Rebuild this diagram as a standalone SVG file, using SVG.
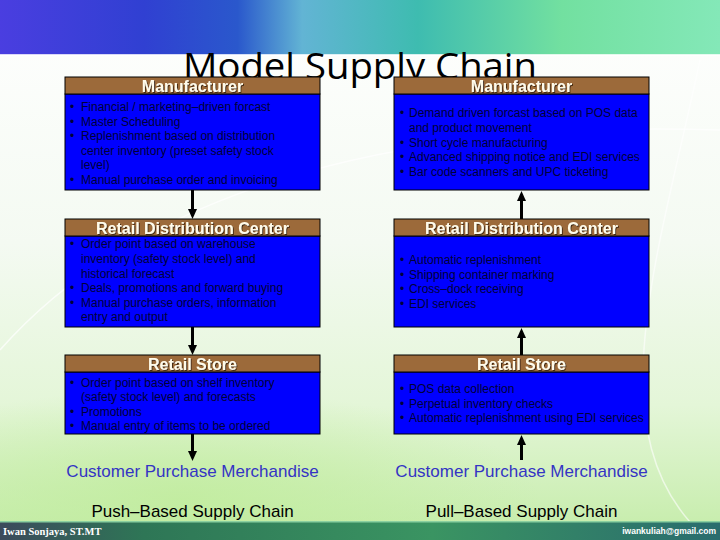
<svg xmlns="http://www.w3.org/2000/svg" width="720" height="540" viewBox="0 0 720 540">
<defs>
<linearGradient id="band" x1="0" y1="0" x2="1" y2="0">
<stop offset="0" stop-color="#4a3ee0"/>
<stop offset="0.2" stop-color="#3040d2"/>
<stop offset="0.33" stop-color="#2a58cc"/>
<stop offset="0.42" stop-color="#62b4d4"/>
<stop offset="0.58" stop-color="#3ebcb0"/>
<stop offset="0.78" stop-color="#72e0a0"/>
<stop offset="1" stop-color="#84e8b8"/>
</linearGradient>
<linearGradient id="bg" x1="0" y1="0" x2="0" y2="1">
<stop offset="0" stop-color="#ffffff"/>
<stop offset="0.45" stop-color="#f4faf2"/>
<stop offset="0.75" stop-color="#e4f6d8"/>
<stop offset="1" stop-color="#c4eca8"/>
</linearGradient>
<radialGradient id="glow" cx="0.25" cy="0.9" r="0.5">
<stop offset="0" stop-color="#c0ec9c" stop-opacity="0.8"/>
<stop offset="1" stop-color="#c0ec9c" stop-opacity="0"/>
</radialGradient>
<linearGradient id="bar" x1="0" y1="0" x2="1" y2="0">
<stop offset="0" stop-color="#3c4a5c"/>
<stop offset="0.2" stop-color="#2e7656"/>
<stop offset="0.6" stop-color="#3a9462"/>
<stop offset="1" stop-color="#2a6c6e"/>
</linearGradient>
<filter id="sh" x="-10%" y="-30%" width="120%" height="160%">
<feDropShadow dx="1" dy="1" stdDeviation="0.4" flood-color="#3a2410" flood-opacity="0.9"/>
</filter>
<marker id="ah" viewBox="0 0 10 9" markerUnits="userSpaceOnUse" markerWidth="10" markerHeight="9" refX="4" refY="4.5" orient="auto">
<path d="M0,0 L10,4.5 L0,9 z" fill="#000"/>
</marker>
<style>
.hdr{fill:#9c6a3a;stroke:#000;stroke-width:1}
.body{fill:#0000ff;stroke:#000;stroke-width:1}
.ht{font-family:"Liberation Sans",Arial,sans-serif;font-weight:bold;font-size:16px;fill:#fffbea;text-anchor:middle;filter:url(#sh)}
.bt{font-family:"Liberation Sans",Arial,sans-serif;font-size:12px;fill:#000038}
.cpm{font-family:"Liberation Sans",Arial,sans-serif;font-size:17px;fill:#3434c4;text-anchor:middle}
.lbl{font-family:"Liberation Sans",Arial,sans-serif;font-size:17px;fill:#000;text-anchor:middle}
.conn{stroke:#000;stroke-width:3;fill:none}
</style>
</defs>
<rect x="0" y="0" width="720" height="540" fill="url(#bg)"/>
<rect x="0" y="300" width="720" height="222" fill="url(#glow)"/>
<path d="M0,350 C150,180 420,120 720,130" stroke="#ffffff" stroke-width="1.5" fill="none" opacity="0.7"/>
<path d="M700,60 C660,250 600,420 690,522" stroke="#ffffff" stroke-width="1.5" fill="none" opacity="0.6"/>
<rect x="0" y="0" width="720" height="55" fill="url(#band)"/>
<rect x="0" y="54" width="720" height="2" fill="#ffffff" opacity="0.8"/>
<text x="360" y="79" font-family="'Open Sans','Liberation Sans',sans-serif" font-size="36" fill="#000" text-anchor="middle" textLength="354" lengthAdjust="spacingAndGlyphs">Model Supply Chain</text>

<g id="connectors">
<line class="conn" x1="192.5" y1="190" x2="192.5" y2="213" marker-end="url(#ah)"/>
<line class="conn" x1="192.5" y1="327" x2="192.5" y2="349" marker-end="url(#ah)"/>
<line class="conn" x1="192.5" y1="434" x2="192.5" y2="455" marker-end="url(#ah)"/>
<line class="conn" x1="521.5" y1="219" x2="521.5" y2="197" marker-end="url(#ah)"/>
<line class="conn" x1="521.5" y1="355" x2="521.5" y2="334" marker-end="url(#ah)"/>
<line class="conn" x1="521.5" y1="460" x2="521.5" y2="441" marker-end="url(#ah)"/>
</g>

<g id="push-manufacturer">
<rect class="body" x="65" y="94" width="255" height="96"/>
<rect class="hdr" x="65" y="77" width="255" height="17"/>
<text class="ht" x="192.5" y="91.5">Manufacturer</text>
<text class="bt"><tspan x="70" y="111">•</tspan><tspan x="81" y="111">Financial / marketing–driven forcast</tspan><tspan x="70" y="125.5">•</tspan><tspan x="81" y="125.5">Master Scheduling</tspan><tspan x="70" y="140">•</tspan><tspan x="81" y="140">Replenishment based on distribution</tspan><tspan x="81" y="154.5">center inventory (preset safety stock</tspan><tspan x="81" y="169">level)</tspan><tspan x="70" y="183.5">•</tspan><tspan x="81" y="183.5">Manual purchase order and invoicing</tspan></text>
</g>

<g id="pull-manufacturer">
<rect class="body" x="394" y="94" width="255" height="96"/>
<rect class="hdr" x="394" y="77" width="255" height="17"/>
<text class="ht" x="521.5" y="91.5">Manufacturer</text>
<text class="bt"><tspan x="400" y="117">•</tspan><tspan x="409" y="117">Demand driven forcast based on POS data</tspan><tspan x="409" y="132">and product movement</tspan><tspan x="400" y="146.5">•</tspan><tspan x="409" y="146.5">Short cycle manufacturing</tspan><tspan x="400" y="161">•</tspan><tspan x="409" y="161">Advanced shipping notice and EDI services</tspan><tspan x="400" y="175.5">•</tspan><tspan x="409" y="175.5">Bar code scanners and UPC ticketing</tspan></text>
</g>

<g id="push-distribution-center">
<rect class="body" x="65" y="236" width="255" height="91"/>
<rect class="hdr" x="65" y="219" width="255" height="17"/>
<text class="ht" x="192.5" y="233.5">Retail Distribution Center</text>
<text class="bt"><tspan x="70" y="248">•</tspan><tspan x="81" y="248">Order point based on warehouse</tspan><tspan x="81" y="263">inventory (safety stock level) and</tspan><tspan x="81" y="277.5">historical forecast</tspan><tspan x="70" y="292">•</tspan><tspan x="81" y="292">Deals, promotions and forward buying</tspan><tspan x="70" y="306.5">•</tspan><tspan x="81" y="306.5">Manual purchase orders, information</tspan><tspan x="81" y="321">entry and output</tspan></text>
</g>

<g id="pull-distribution-center">
<rect class="body" x="394" y="236" width="255" height="91"/>
<rect class="hdr" x="394" y="219" width="255" height="17"/>
<text class="ht" x="521.5" y="233.5">Retail Distribution Center</text>
<text class="bt"><tspan x="400" y="264">•</tspan><tspan x="409" y="264">Automatic replenishment</tspan><tspan x="400" y="278.5">•</tspan><tspan x="409" y="278.5">Shipping container marking</tspan><tspan x="400" y="293">•</tspan><tspan x="409" y="293">Cross–dock receiving</tspan><tspan x="400" y="307.5">•</tspan><tspan x="409" y="307.5">EDI services</tspan></text>
</g>

<g id="push-retail-store">
<rect class="body" x="65" y="372" width="255" height="62"/>
<rect class="hdr" x="65" y="355" width="255" height="17"/>
<text class="ht" x="192.5" y="369.5">Retail Store</text>
<text class="bt"><tspan x="70" y="387">•</tspan><tspan x="81" y="387">Order point based on shelf inventory</tspan><tspan x="81" y="401">(safety stock level) and forecasts</tspan><tspan x="70" y="415.5">•</tspan><tspan x="81" y="415.5">Promotions</tspan><tspan x="70" y="430">•</tspan><tspan x="81" y="430">Manual entry of items to be ordered</tspan></text>
</g>

<g id="pull-retail-store">
<rect class="body" x="394" y="372" width="255" height="62"/>
<rect class="hdr" x="394" y="355" width="255" height="17"/>
<text class="ht" x="521.5" y="369.5">Retail Store</text>
<text class="bt"><tspan x="400" y="393">•</tspan><tspan x="409" y="393">POS data collection</tspan><tspan x="400" y="407.5">•</tspan><tspan x="409" y="407.5">Perpetual inventory checks</tspan><tspan x="400" y="422">•</tspan><tspan x="409" y="422">Automatic replenishment using EDI services</tspan></text>
</g>

<g id="push-customer">
<text class="cpm" x="192.5" y="477">Customer Purchase Merchandise</text>
</g>
<g id="pull-customer">
<text class="cpm" x="521.5" y="477">Customer Purchase Merchandise</text>
</g>
<text class="lbl" x="192.5" y="517">Push–Based Supply Chain</text>
<text class="lbl" x="521.5" y="517">Pull–Based Supply Chain</text>

<rect x="0" y="522" width="720" height="18" fill="url(#bar)"/>
<rect x="0" y="521" width="720" height="1.5" fill="#8ad0a0"/>
<text x="3" y="535" font-family="'Liberation Serif','Times New Roman',serif" font-weight="bold" font-size="10.5" fill="#ffffff">Iwan Sonjaya, ST.MT</text>
<text x="716" y="534" font-family="'Liberation Sans',Arial,sans-serif" font-weight="bold" font-size="8.5" fill="#ffffff" text-anchor="end">iwankuliah@gmail.com</text>
</svg>
